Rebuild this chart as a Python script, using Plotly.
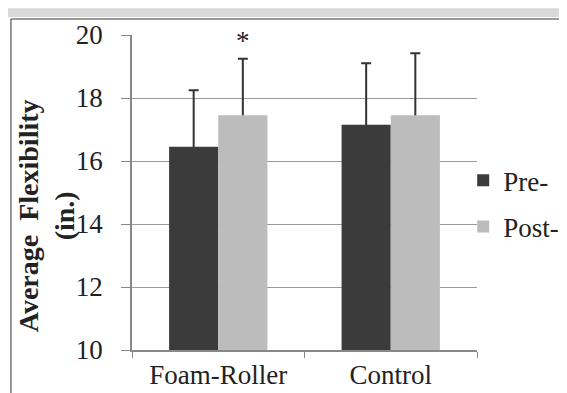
import plotly.graph_objects as go

categories = ["Foam-Roller", "Control"]
pre_values = [16.45, 17.15]
post_values = [17.45, 17.45]
pre_err = [1.8, 1.95]
post_err = [1.8, 1.97]
series_names = ["Pre-", "Post-"]
y_ticks = [10, 12, 14, 16, 18, 20]

FONT = "Liberation Serif, Times New Roman, serif"
FS = 27
PRE_COLOR = "#3b3b3b"
POST_COLOR = "#bcbcbc"
ERR = dict(color="#333333", thickness=2, width=5)

fig = go.Figure()
# error bars drawn first (symmetric), so the bars drawn afterwards hide the lower half
for vals, errs, grp in [(pre_values, pre_err, "pre"), (post_values, post_err, "post")]:
    fig.add_trace(go.Bar(
        x=categories, y=vals, offsetgroup=grp, showlegend=False, hoverinfo="skip",
        marker=dict(color="rgba(0,0,0,0)", line=dict(width=0)),
        error_y=dict(type="data", array=errs, symmetric=True, **ERR),
    ))
fig.add_trace(go.Bar(
    x=categories, y=pre_values, name=series_names[0], legendgroup="a", offsetgroup="pre",
    marker=dict(color=PRE_COLOR, line=dict(width=0)),
))
fig.add_trace(go.Bar(
    x=categories, y=post_values, name=series_names[1], legendgroup="b", offsetgroup="post",
    marker=dict(color=POST_COLOR, line=dict(width=0)),
))

# page body has an 8px margin, so the figure is sized to fit the window
fig.update_layout(
    width=559, height=385,
    margin=dict(l=124, r=90, t=27, b=43, autoexpand=False),
    paper_bgcolor="white", plot_bgcolor="white",
    barmode="group", bargap=0.43, bargroupgap=0.0,
    font=dict(family=FONT, size=FS, color="#222222"),
    showlegend=True,
    legend=dict(x=0.96, y=0.615, xanchor="left", yanchor="top",
                font=dict(family=FONT, size=FS, color="#222222"),
                tracegroupgap=8, traceorder="grouped",
                bgcolor="rgba(0,0,0,0)", itemwidth=30),
    xaxis=dict(
        showline=True, linecolor="#888888", linewidth=1.5,
        ticks="outside", ticklen=6, tickcolor="#888888", tickson="boundaries",
        tickfont=dict(family=FONT, size=FS, color="#222222"),
        showgrid=False, automargin=False,
    ),
    yaxis=dict(
        range=[10, 20], tickvals=y_ticks,
        showline=True, linecolor="#888888", linewidth=1.5,
        ticks="outside", ticklen=9, tickcolor="#888888",
        ticklabelstandoff=13,
        showgrid=True, gridcolor="#9a9a9a", gridwidth=1,
        tickfont=dict(family=FONT, size=FS, color="#222222"),
        zeroline=False, automargin=False,
    ),
    shapes=[
        dict(type="rect", xref="paper", yref="paper", x0=-0.4, x1=1.3,
             y0=1.057, y1=1.085, fillcolor="#d9d9d9", line=dict(width=0), layer="below"),
        dict(type="line", xref="paper", yref="paper", x0=-0.351, x1=1.3,
             y0=1.051, y1=1.051, line=dict(color="#777777", width=1.5)),
        dict(type="line", xref="paper", yref="paper", x0=-0.351, x1=-0.351,
             y0=1.051, y1=-0.2, line=dict(color="#777777", width=1.5)),
    ],
    annotations=[
        dict(x=-0.249, y=0.425, xref="paper", yref="paper", textangle=-90,
             text="<b>Average  Flexibility<br>(in.)</b>", showarrow=False,
             xanchor="center", yanchor="middle",
             font=dict(family=FONT, size=28, color="#222222")),
        dict(x="Foam-Roller", y=19.8, xref="x", yref="y", text="*", showarrow=False,
             xshift=25, font=dict(family=FONT, size=FS, color="#222222")),
    ],
)

fig.write_html("out.html")
